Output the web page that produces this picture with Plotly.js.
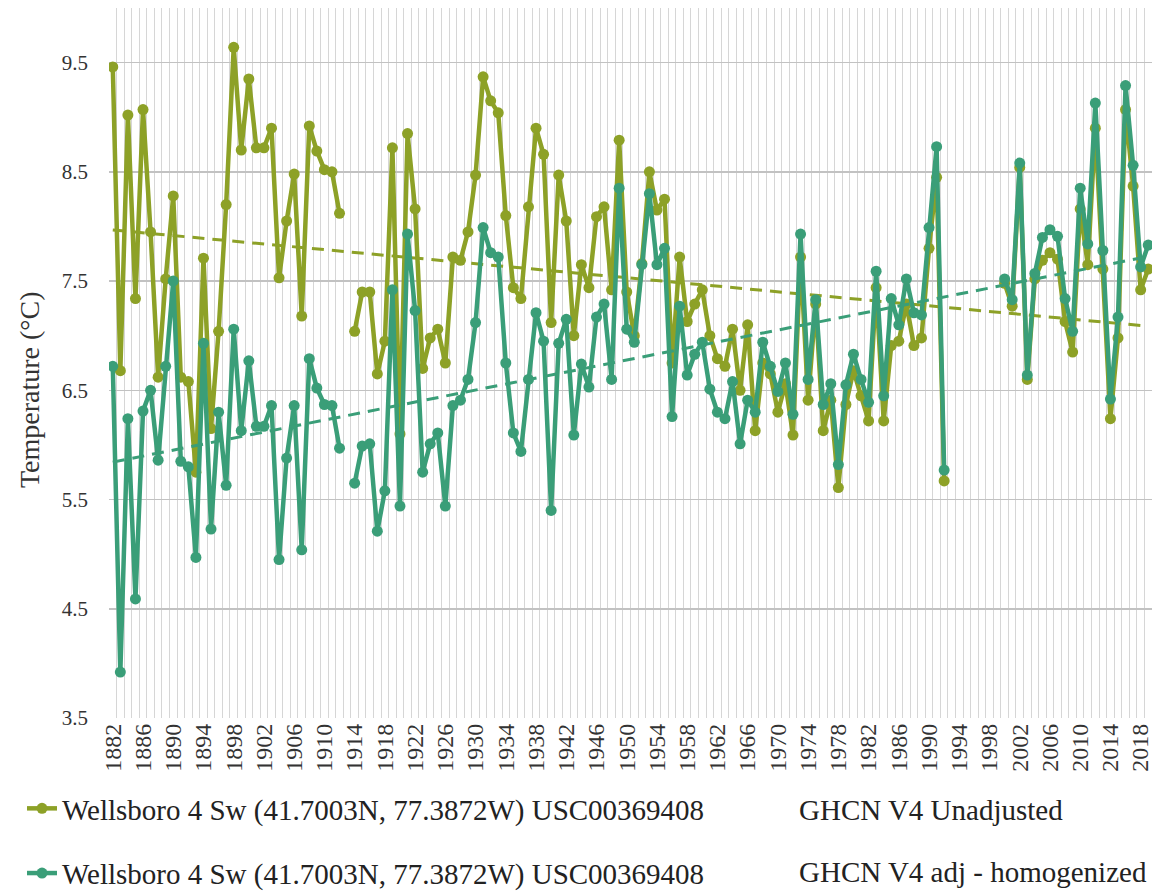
<!DOCTYPE html>
<html>
<head>
<meta charset="utf-8">
<script src="https://cdn.plot.ly/plotly-3.0.1.min.js"></script>
<style>html,body{margin:0;padding:0;background:#fff;}#chart{width:1165px;height:892px;}</style>
</head>
<body>
<div id="chart"></div>
<script>
// Years 1882..2019 (null = no data: 1913, 1993-1999)
var firstYear = 1882, lastYear = 2019;
var years = [];
for (var y = firstYear; y <= lastYear; y++) years.push(y);

// GHCN V4 Unadjusted (°C)
var unadjusted = [
  9.46, 6.68, 9.02, 7.34, 9.07, 7.95, 6.62, 7.52, 8.28, 6.62,   // 1882-1891
  6.58, 5.75, 7.71, 6.15, 7.04, 8.20, 9.64, 8.70, 9.35, 8.72,   // 1892-1901
  8.72, 8.90, 7.53, 8.05, 8.48, 7.18, 8.92, 8.69, 8.52, 8.50,   // 1902-1911
  8.12, null, 7.04, 7.40, 7.40, 6.65, 6.95, 8.72, 6.10, 8.85,   // 1912-1921
  8.16, 6.70, 6.98, 7.06, 6.75, 7.72, 7.69, 7.95, 8.47, 9.37,   // 1922-1931
  9.15, 9.04, 8.10, 7.44, 7.34, 8.18, 8.90, 8.66, 7.12, 8.47,   // 1932-1941
  8.05, 7.00, 7.65, 7.44, 8.09, 8.18, 7.42, 8.79, 7.40, 7.00,   // 1942-1951
  7.66, 8.50, 8.15, 8.25, 6.75, 7.72, 7.13, 7.29, 7.42, 7.00,   // 1952-1961
  6.79, 6.72, 7.06, 6.50, 7.10, 6.13, 6.75, 6.65, 6.30, 6.56,   // 1962-1971
  6.09, 7.72, 6.41, 7.29, 6.13, 6.41, 5.61, 6.37, 6.68, 6.45,   // 1972-1981
  6.22, 7.44, 6.22, 6.91, 6.95, 7.29, 6.91, 6.98, 7.80, 8.45,   // 1982-1991
  5.67, null, null, null, null, null, null, null, 7.48, 7.27,   // 1992-2001
  8.54, 6.60, 7.52, 7.69, 7.76, 7.70, 7.13, 6.85, 8.16, 7.65,   // 2002-2011
  8.90, 7.61, 6.24, 6.98, 9.07, 8.37, 7.42, 7.61                // 2012-2019
];

// GHCN V4 adj - homogenized (°C)
var adjusted = [
  6.72, 3.92, 6.24, 4.59, 6.31, 6.50, 5.86, 6.72, 7.50, 5.85,   // 1882-1891
  5.80, 4.97, 6.93, 5.23, 6.30, 5.63, 7.06, 6.13, 6.77, 6.17,   // 1892-1901
  6.17, 6.36, 4.95, 5.88, 6.36, 5.04, 6.79, 6.52, 6.37, 6.36,   // 1902-1911
  5.97, null, 5.65, 5.99, 6.01, 5.21, 5.58, 7.42, 5.44, 7.93,   // 1912-1921
  7.23, 5.75, 6.01, 6.11, 5.44, 6.36, 6.41, 6.60, 7.12, 7.99,   // 1922-1931
  7.76, 7.72, 6.75, 6.11, 5.94, 6.60, 7.21, 6.95, 5.40, 6.93,   // 1932-1941
  7.15, 6.09, 6.74, 6.53, 7.17, 7.29, 6.60, 8.35, 7.06, 6.94,   // 1942-1951
  7.65, 8.30, 7.65, 7.80, 6.26, 7.27, 6.64, 6.83, 6.94, 6.51,   // 1952-1961
  6.30, 6.24, 6.58, 6.01, 6.41, 6.30, 6.94, 6.72, 6.49, 6.75,   // 1962-1971
  6.28, 7.93, 6.60, 7.33, 6.37, 6.56, 5.82, 6.55, 6.83, 6.60,   // 1972-1981
  6.39, 7.59, 6.45, 7.34, 7.10, 7.52, 7.21, 7.19, 7.99, 8.73,   // 1982-1991
  5.77, null, null, null, null, null, null, null, 7.52, 7.33,   // 1992-2001
  8.58, 6.64, 7.57, 7.90, 7.97, 7.91, 7.34, 7.04, 8.35, 7.84,   // 2002-2011
  9.13, 7.78, 6.42, 7.17, 9.29, 8.56, 7.63, 7.83                // 2012-2019
];

var stationName = 'Wellsboro 4 Sw (41.7003N, 77.3872W) USC00369408';
var seriesLabels = ['GHCN V4 Unadjusted', 'GHCN V4 adj - homogenized'];
var yAxisTitle = 'Temperature (°C)';
var yTicks = [3.5, 4.5, 5.5, 6.5, 7.5, 8.5, 9.5];
var xTickYears = [];
for (var t = 1882; t <= 2018; t += 4) xTickYears.push(t);

var colU = '#8da127';
var colA = '#3a9e78';

// Linear (least squares) trend lines computed from the data
function trend(xs, ys) {
  var n = 0, sx = 0, sy = 0, sxx = 0, sxy = 0;
  for (var i = 0; i < xs.length; i++) {
    if (ys[i] === null) continue;
    n++; sx += xs[i]; sy += ys[i]; sxx += xs[i] * xs[i]; sxy += xs[i] * ys[i];
  }
  var b = (n * sxy - sx * sy) / (n * sxx - sx * sx);
  var a = (sy - b * sx) / n;
  return xs.map(function (x) { return a + b * x; });
}

var serif = '"Liberation Serif", serif';

var traces = [
  {x: years, y: unadjusted, type: 'scatter', mode: 'lines+markers', name: stationName,
   line: {color: colU, width: 4.5}, marker: {color: colU, size: 11}, legendgroup: 'u', connectgaps: false},
  {x: years, y: trend(years, unadjusted), type: 'scatter', mode: 'lines', showlegend: false,
   line: {color: colU, width: 3, dash: '12px,8px'}, hoverinfo: 'skip'},
  {x: years, y: adjusted, type: 'scatter', mode: 'lines+markers', name: stationName,
   line: {color: colA, width: 4.5}, marker: {color: colA, size: 11}, legendgroup: 'a', connectgaps: false},
  {x: years, y: trend(years, adjusted), type: 'scatter', mode: 'lines', showlegend: false,
   line: {color: colA, width: 3, dash: '12px,8px'}, hoverinfo: 'skip'}
];

var layout = {
  width: 1165, height: 892,
  margin: {l: 109, r: 13, t: 8, b: 174, autoexpand: false},
  paper_bgcolor: '#fff', plot_bgcolor: '#fff',
  showlegend: true,
  font: {family: serif},
  xaxis: {
    range: [1881.5, 2019.5], tickmode: 'array', tickvals: xTickYears, ticktext: xTickYears.map(String),
    tickangle: -90, tickfont: {family: serif, size: 24, color: '#333'},
    showgrid: false, zeroline: false, showline: false, ticks: '',
    minor: {tick0: 1881.5, dtick: 1, showgrid: true, gridcolor: '#d6d6d6', gridwidth: 1, ticks: ''}
  },
  yaxis: {
    range: [3.5, 10.0], tickmode: 'array', tickvals: yTicks, ticktext: yTicks.map(function (v) { return v.toFixed(1); }),
    tickfont: {family: serif, size: 21, color: '#333'},
    gridcolor: '#c2c2c2', gridwidth: 1.5, zeroline: false, showline: false, ticks: '',
    ticklabelstandoff: 20
  },
  legend: {
    xref: 'container', yref: 'container',
    x: 0.0189, xanchor: 'left', y: 0.1222, yanchor: 'top', orientation: 'v',
    traceorder: 'grouped', tracegroupgap: 24,
    font: {family: serif, size: 29, color: '#222'}, bgcolor: 'rgba(0,0,0,0)'
  },
  annotations: [
    {xref: 'paper', yref: 'paper', x: -0.0757, y: 0.462, xanchor: 'center', yanchor: 'middle', showarrow: false,
     textangle: -90, text: yAxisTitle, font: {family: serif, size: 28, color: '#333'}},
    {xref: 'paper', yref: 'paper', x: 0.6596, y: -0.1296, xanchor: 'left', yanchor: 'middle', showarrow: false,
     text: seriesLabels[0], font: {family: serif, size: 29, color: '#222'}},
    {xref: 'paper', yref: 'paper', x: 0.6596, y: -0.2169, xanchor: 'left', yanchor: 'middle', showarrow: false,
     text: seriesLabels[1], font: {family: serif, size: 29, color: '#222'}}
  ]
};

Plotly.newPlot('chart', traces, layout, {displayModeBar: false, staticPlot: true});
</script>
</body>
</html>
